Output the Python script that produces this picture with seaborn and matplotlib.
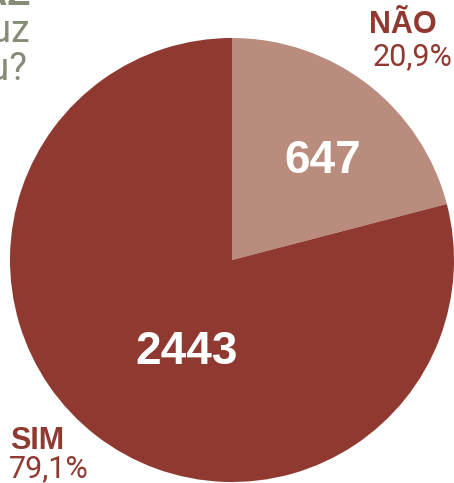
import matplotlib
matplotlib.use("Agg")
import matplotlib.pyplot as plt
import seaborn as sns

categories = ["NÃO", "SIM"]
counts = [647, 2443]
percents = ["20,9%", "79,1%"]
colors = ["#b98c7d", "#903931"]
question = ["VOCÊ FAZ", "Já fez teste de luz", "no seu?"]

sns.set_theme(style="white")
plt.rcParams['font.family'] = ['Roboto', 'DejaVu Sans']
BOLD = ['Liberation Sans', 'DejaVu Sans']

H = 483
fig = plt.figure(figsize=(4.54, 4.83), dpi=100)
ax = fig.add_axes([0, 0, 1, 1])

cx, cy, r = 232, H - 260, 222
ax.pie(counts, colors=colors, startangle=90, counterclock=False,
       center=(cx, cy), radius=r, frame=True,
       wedgeprops=dict(linewidth=0, antialiased=True))
ax.set_xlim(0, 454)
ax.set_ylim(0, H)
ax.set_aspect("auto")
ax.axis("off")

# values inside
ax.text(323, H - 173, str(counts[0]), color="white", fontsize=33, fontweight="bold",
        family=BOLD, ha="center", va="baseline")
ax.text(187, H - 364, str(counts[1]), color="white", fontsize=33, fontweight="bold",
        family=BOLD, ha="center", va="baseline")

red = "#903931"
ax.text(437, H - 33, categories[0], color=red, fontsize=22, fontweight="bold",
        family=BOLD, ha="right", va="baseline")
ax.text(452, H - 65, percents[0], color=red, fontsize=22, ha="right", va="baseline")
ax.text(10, H - 449, categories[1], color=red, fontsize=22, fontweight="bold",
        family=BOLD, ha="left", va="baseline")
ax.text(9, H - 477, percents[1], color=red, fontsize=22, ha="left", va="baseline")

# cut-off question text at top-left
grey = "#858d77"
ax.text(30, H - 5, question[0], color=grey, fontsize=27, fontweight="bold",
        family=BOLD, ha="right", va="baseline")
ax.text(30, H - 42, question[1], color=grey, fontsize=27, ha="right", va="baseline")
ax.text(27, H - 80, question[2], color=grey, fontsize=27, ha="right", va="baseline")

fig.savefig("out.png", dpi=100)
